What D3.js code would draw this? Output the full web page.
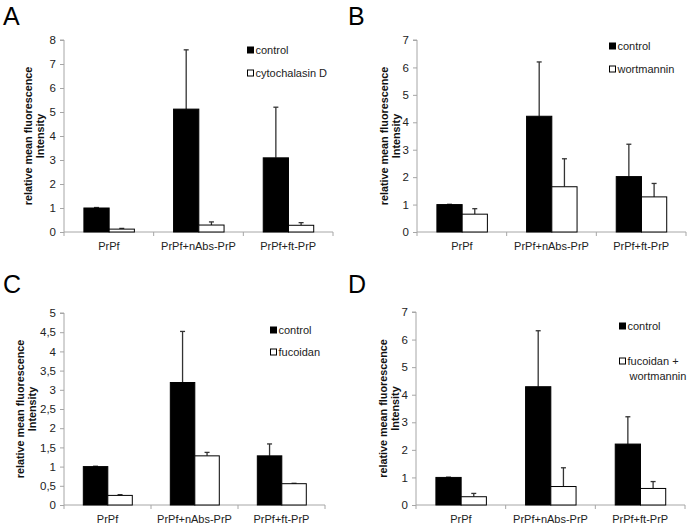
<!DOCTYPE html>
<html><head><meta charset="utf-8">
<script src="https://cdn.jsdelivr.net/npm/d3@7"></script>
<style>body{margin:0;background:#fff}svg{display:block;font-family:"Liberation Sans",Arial,sans-serif}</style>
</head><body>
<svg id="c" width="689" height="525"></svg>
<script>
const categories = ["PrPf", "PrPf+nAbs-PrP", "PrPf+ft-PrP"];

const panelLetters = ["A", "B", "C", "D"];
const seriesNames = [
  ["control", "cytochalasin D"],
  ["control", "wortmannin"],
  ["control", "fucoidan"],
  ["control", "fucoidan +\nwortmannin"]
];
const controlA = [1.0, 5.12, 3.09];
const controlAErr = [0.02, 2.47, 2.11];
const treatA = [0.12, 0.29, 0.28];
const treatAErr = [0.03, 0.13, 0.11];

const controlB = [1.0, 4.22, 2.02];
const controlBErr = [0.01, 1.98, 1.18];
const treatB = [0.65, 1.65, 1.28];
const treatBErr = [0.2, 1.02, 0.49];

const controlC = [1.0, 3.19, 1.28];
const controlCErr = [0.01, 1.33, 0.31];
const treatC = [0.25, 1.28, 0.555];
const treatCErr = [0.02, 0.09, 0.01];

const controlD = [1.0, 4.29, 2.21];
const controlDErr = [0.01, 2.03, 0.99];
const treatD = [0.3, 0.67, 0.6];
const treatDErr = [0.12, 0.68, 0.25];

const yMax = [8, 7, 5, 7];
const yStep = [1, 1, 0.5, 1];

const panels = [
  {c: controlA, ce: controlAErr, t: treatA, te: treatAErr, box: [64, 333, 40, 232], lab: [3, 25], leg: [247, 50, 73]},
  {c: controlB, ce: controlBErr, t: treatB, te: treatBErr, box: [417, 686, 40, 232], lab: [348, 25], leg: [609, 46, 69]},
  {c: controlC, ce: controlCErr, t: treatC, te: treatCErr, box: [64, 325, 313, 505], lab: [3, 293], leg: [270, 330, 352]},
  {c: controlD, ce: controlDErr, t: treatD, te: treatDErr, box: [416, 685, 312, 505], lab: [348, 293], leg: [619, 326, 361]}
];

const svg = d3.select("#c");
const comma = v => d3.format("")(v).replace(".", ",");

panels.forEach((p, i) => {
  const [x0, x1, yT, y0] = p.box;
  const g = svg.append("g");
  const x = d3.scaleBand().domain(categories).range([x0, x1]).padding(0);
  const bw = x.bandwidth();
  const xs = d3.scaleBand().domain([0, 1]).range([bw * 0.222, bw * 0.785]).padding(0);
  const y = d3.scaleLinear().domain([0, yMax[i]]).range([y0, yT]);
  const ticks = d3.range(0, yMax[i] + 1e-9, yStep[i]);

  // y axis
  const ya = g.append("g").attr("transform", `translate(${x0},0)`)
    .call(d3.axisLeft(y).tickValues(ticks).tickSize(4).tickPadding(4).tickFormat(comma));
  ya.select(".domain").attr("stroke", "#a6a6a6").attr("d", `M-4,${yT}H0V${y0}`);
  ya.selectAll(".tick line").attr("stroke", "#a6a6a6");
  ya.selectAll(".tick text").attr("font-size", 11.5).attr("fill", "#222").attr("font-family", "Liberation Sans, Arial");

  // x axis
  const xa = g.append("g").attr("transform", `translate(0,${y0})`)
    .call(d3.axisBottom(x).tickSize(0).tickPadding(10));
  xa.select(".domain").attr("stroke", "#a6a6a6").attr("d", `M${x0},0H${x1}`);
  xa.selectAll(".tick text").attr("font-size", 11).attr("fill", "#222").attr("font-family", "Liberation Sans, Arial");
  // category boundary ticks
  g.selectAll("line.sep").data(categories.concat([null])).enter().append("line")
    .attr("x1", (d, k) => x0 + k * bw).attr("x2", (d, k) => x0 + k * bw)
    .attr("y1", y0).attr("y2", y0 + 4).attr("stroke", "#a6a6a6");

  const series = [{v: p.c, e: p.ce, fill: "#000"}, {v: p.t, e: p.te, fill: "#fff"}];
  series.forEach((s, si) => {
    const bars = g.append("g");
    categories.forEach((cat, ci) => {
      const bx = x(cat) + xs(si);
      const w = xs.bandwidth();
      const cx = bx + w / 2;
      const top = y(s.v[ci] + s.e[ci]);
      bars.append("line").attr("x1", cx).attr("x2", cx).attr("y1", y(s.v[ci])).attr("y2", top)
        .attr("stroke", "#333").attr("stroke-width", 1.3);
      bars.append("line").attr("x1", cx - 2.5).attr("x2", cx + 2.5).attr("y1", top).attr("y2", top)
        .attr("stroke", "#333").attr("stroke-width", 1.3);
      bars.append("rect").attr("x", bx).attr("y", y(s.v[ci])).attr("width", w)
        .attr("height", y0 - y(s.v[ci])).attr("fill", s.fill).attr("stroke", "#000").attr("stroke-width", 1);
    });
  });

  // y label
  const cyl = (yT + y0) / 2;
  const off = i === 2 ? [-44, -32] : (i === 0 ? [-36, -24] : [-33, -21]);
  ["relative mean fluorescence", "Intensity"].forEach((t, k) => {
    g.append("text").attr("transform", `translate(${x0 + off[k]},${cyl}) rotate(-90)`)
      .attr("text-anchor", "middle").attr("dominant-baseline", "central")
      .attr("font-size", 10.8).attr("font-weight", "bold").attr("fill", "#111").text(t);
  });

  // panel letter
  svg.append("text").attr("x", p.lab[0]).attr("y", p.lab[1]).attr("font-size", 25)
    .attr("font-family", "Liberation Sans, Arial").attr("fill", "#000").text(panelLetters[i]);

  // legend
  const [lx, ly1, ly2] = p.leg;
  [[ly1, "#000"], [ly2, "#fff"]].forEach(([ly, f], k) => {
    g.append("rect").attr("x", lx + 0.5).attr("y", ly - 3).attr("width", 6).attr("height", 6)
      .attr("fill", f).attr("stroke", "#000").attr("stroke-width", 1);
    const lines = seriesNames[i][k].split("\n");
    lines.forEach((ln, j) => {
      g.append("text").attr("x", lx + 8.5 + (j > 0 ? 2 : 0)).attr("y", ly + 4 + j * 15)
        .attr("font-size", 11).attr("fill", "#222").text(ln);
    });
  });
});
</script>
</body></html>
